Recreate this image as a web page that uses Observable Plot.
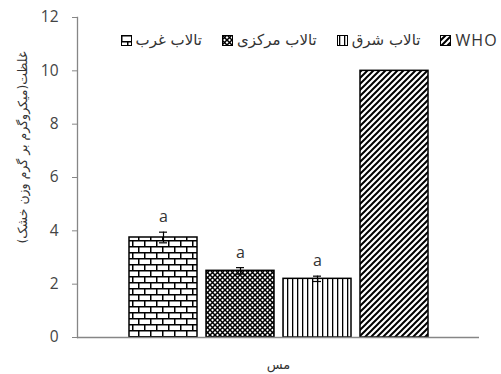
<!DOCTYPE html>
<html><head><meta charset="utf-8">
<script src="https://cdn.jsdelivr.net/npm/d3@7"></script>
<script src="https://cdn.jsdelivr.net/npm/@observablehq/plot@0.6"></script>
<style>
html,body{margin:0;padding:0;background:#fff;}
#wrap{position:relative;width:501px;height:374px;overflow:hidden;}
#legend{position:absolute;top:29px;right:3px;display:flex;align-items:center;gap:20px;font:15px "DejaVu Sans",sans-serif;color:#333;white-space:nowrap;}
#legend .item{display:flex;align-items:center;gap:4px;}
#legend svg{display:block;}
#legend .lat{font-family:"Open Sans","DejaVu Sans",sans-serif;font-size:16px;letter-spacing:1.2px;}
</style></head><body>
<svg width="0" height="0" style="position:absolute">
<defs>
<pattern id="pBrick" patternUnits="userSpaceOnUse" width="12" height="12">
<rect width="12" height="12" fill="#fff"/>
<path d="M0,0.75H12M0,6.75H12M0.75,0V6.75M6.75,6.75V12" stroke="#000" stroke-width="1.5" fill="none"/>
</pattern>
<pattern id="pCross" patternUnits="userSpaceOnUse" width="5" height="5">
<rect width="5" height="5" fill="#fff"/>
<path d="M-1,-1L6,6M6,-1L-1,6" stroke="#000" stroke-width="1.5"/>
</pattern>
<pattern id="pVert" patternUnits="userSpaceOnUse" width="5" height="5">
<rect width="5" height="5" fill="#fff"/>
<rect x="2" width="1.3" height="5" fill="#000"/>
</pattern>
<pattern id="pDiag" patternUnits="userSpaceOnUse" width="6" height="6">
<rect width="6" height="6" fill="#fff"/>
<path d="M0,6L6,0M-1.5,1.5L1.5,-1.5M4.5,7.5L7.5,4.5" stroke="#000" stroke-width="2"/>
</pattern>
</defs></svg>
<div id="wrap"><div id="legend"></div></div>
<script>
const category = "مس";
const series = ["تالاب غرب", "تالاب مرکزی", "تالاب شرق", "WHO"];
const values = [3.75, 2.5, 2.2, 10];
const errors = [0.2, 0.12, 0.1, null];
const letters = ["a", "a", "a", ""];
const yTicks = [0, 2, 4, 6, 8, 10, 12];
const yLabel = "غلظت(میکروگرم بر گرم وزن خشک)";
const patterns = ["url(#pBrick)", "url(#pCross)", "url(#pVert)", "url(#pDiag)"];

const data = series.map((s, i) => ({cat: category, series: s, value: values[i], err: errors[i], letter: letters[i], fill: patterns[i]}));
const errData = data.filter(d => d.err != null);

const chart = Plot.plot({
  width: 501, height: 374,
  marginLeft: 77, marginRight: 22, marginTop: 17, marginBottom: 37,
  style: {fontFamily: "'Open Sans','DejaVu Sans',sans-serif", background: "transparent", overflow: "visible"},
  fx: {domain: [category], padding: 0, label: null},
  x: {domain: series, paddingInner: 0.12, paddingOuter: 0.645, axis: null},
  y: {domain: [0, 12]},
  color: {type: "identity"},
  marks: [
    Plot.barY(data, {fx: "cat", x: "series", y: "value", fill: "fill", stroke: "#000", strokeWidth: 1.5}),
    Plot.ruleX(errData, {fx: "cat", x: "series", y1: d => d.value - d.err, y2: d => d.value + d.err, stroke: "#000", strokeWidth: 1.2}),
    Plot.tickY(errData, {fx: "cat", x: "series", y: d => d.value + d.err, insetLeft: 30, insetRight: 30, stroke: "#000", strokeWidth: 1.2}),
    Plot.tickY(errData, {fx: "cat", x: "series", y: d => d.value - d.err, insetLeft: 30, insetRight: 30, stroke: "#000", strokeWidth: 1.2}),
    Plot.text(errData, {fx: "cat", x: "series", y: d => d.value + d.err, text: "letter", dy: -15, fontSize: 16, fill: "#333"}),
    Plot.ruleY([0], {stroke: "#868686", strokeWidth: 1.3}),
    Plot.frame({anchor: "left", stroke: "#868686", strokeWidth: 1.3}),
    Plot.axisY({ticks: yTicks, tickSize: 5, tickPadding: 14, stroke: "#868686", fill: "#444", fontSize: 15.5, label: null, tickFormat: d => d}),
    Plot.axisFx({anchor: "bottom", tickSize: 0, tickPadding: 22, fontSize: 13, label: null, fill: "#333", fontFamily: "'DejaVu Sans',sans-serif"}),
    Plot.text([yLabel], {text: d => "\u200F" + d + "\u200F", frameAnchor: "top-left", textAnchor: "middle", lineAnchor: "middle", rotate: -90, dx: -55, dy: 130, fontSize: 12.5, fill: "#333", fontFamily: "'DejaVu Sans',sans-serif"})
  ]
});
document.getElementById("wrap").prepend(chart);

const legend = document.getElementById("legend");
series.forEach((s, i) => {
  const item = document.createElement("div");
  item.className = "item";
  item.innerHTML = `<svg width="11" height="11"><rect x="0.5" y="0.5" width="10" height="10" fill="${patterns[i]}" stroke="#000" stroke-width="1"/></svg>`;
  const span = document.createElement("span");
  span.dir = "auto";
  if (/^[A-Za-z]/.test(s)) span.className = "lat";
  span.textContent = s;
  item.appendChild(span);
  legend.appendChild(item);
});
</script>
</body></html>
